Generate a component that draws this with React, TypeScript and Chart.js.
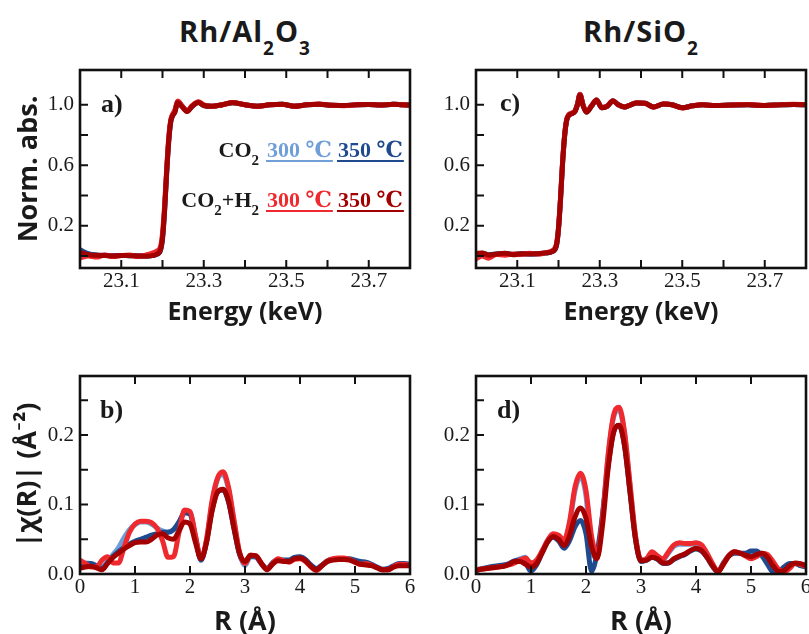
import React, { useEffect, useRef } from 'react';
import { Chart, registerables } from 'chart.js';

Chart.register(...registerables);

const SANS = "'Open Sans', Lato, 'DejaVu Sans', sans-serif";
const SERIF = "'Liberation Serif', 'DejaVu Serif', serif";
const INK = '#1a1a1a';

const C_CO2_300 = '#6f9fd6';
const C_CO2_350 = '#1f4b8e';
const C_H2_300 = '#ee2a2f';
const C_H2_350 = '#a30000';

// ---------- XANES, Rh/Al2O3 ----------
const ENERGY_AL = [23.00, 23.02, 23.04, 23.06, 23.08, 23.10, 23.12, 23.14, 23.16, 23.175, 23.185, 23.195, 23.20, 23.205, 23.21, 23.215, 23.22, 23.225, 23.23, 23.237, 23.248, 23.26, 23.272, 23.287, 23.30, 23.32, 23.345, 23.37, 23.40, 23.43, 23.46, 23.49, 23.52, 23.55, 23.58, 23.61, 23.64, 23.67, 23.70, 23.73, 23.76, 23.78, 23.80];
const AL_XANES_CO2_300 = [0.030, 0.012, 0.005, 0.003, 0.001, 0.003, 0.002, 0.000, -0.001, 0.003, 0.011, 0.042, 0.125, 0.305, 0.555, 0.765, 0.892, 0.935, 0.958, 1.022, 0.988, 0.958, 0.992, 1.018, 0.996, 0.990, 1.000, 1.014, 1.000, 0.990, 1.000, 1.003, 0.990, 1.000, 1.004, 0.996, 0.995, 1.000, 1.001, 0.998, 1.003, 1.000, 0.998];
const AL_XANES_CO2_350 = [0.040, 0.015, 0.006, 0.004, 0.001, 0.003, 0.001, 0.001, -0.001, 0.002, 0.009, 0.035, 0.110, 0.290, 0.540, 0.750, 0.885, 0.930, 0.955, 1.020, 0.990, 0.960, 0.990, 1.015, 0.995, 0.990, 1.000, 1.014, 1.000, 0.990, 1.000, 1.003, 0.991, 1.000, 1.004, 0.996, 0.995, 1.000, 1.001, 0.998, 1.003, 1.000, 0.998];
const AL_XANES_H2_300 = [-0.015, 0.000, -0.008, 0.006, -0.004, 0.002, 0.006, -0.004, 0.006, 0.018, 0.030, 0.060, 0.150, 0.330, 0.570, 0.780, 0.900, 0.940, 0.965, 1.025, 0.990, 0.960, 0.995, 1.020, 1.000, 0.990, 1.000, 1.015, 1.000, 0.990, 1.000, 1.004, 0.990, 1.000, 1.005, 0.997, 0.994, 1.000, 1.002, 0.998, 1.004, 1.000, 0.996];
const AL_XANES_H2_350 = [0.025, 0.008, 0.004, 0.002, 0.000, 0.003, 0.001, 0.000, -0.002, 0.002, 0.010, 0.040, 0.120, 0.300, 0.550, 0.760, 0.890, 0.930, 0.950, 1.015, 0.985, 0.955, 0.990, 1.015, 0.995, 0.990, 1.000, 1.013, 1.000, 0.990, 1.000, 1.003, 0.990, 1.000, 1.004, 0.996, 0.995, 1.000, 1.001, 0.998, 1.003, 1.000, 0.998];

// ---------- XANES, Rh/SiO2 ----------
const ENERGY_SI = [23.00, 23.015, 23.03, 23.05, 23.07, 23.09, 23.11, 23.13, 23.15, 23.17, 23.185, 23.195, 23.20, 23.205, 23.21, 23.215, 23.22, 23.225, 23.232, 23.24, 23.246, 23.252, 23.26, 23.268, 23.28, 23.292, 23.305, 23.318, 23.332, 23.345, 23.36, 23.375, 23.39, 23.41, 23.43, 23.455, 23.475, 23.50, 23.525, 23.55, 23.58, 23.62, 23.66, 23.70, 23.74, 23.77, 23.80];
const SI_XANES_CO2_300 = [0.010, 0.016, 0.006, 0.013, 0.017, 0.009, 0.015, 0.013, 0.015, 0.021, 0.031, 0.072, 0.182, 0.382, 0.622, 0.800, 0.901, 0.932, 0.943, 0.957, 1.003, 1.068, 0.993, 0.953, 0.992, 1.031, 0.981, 0.991, 1.026, 1.000, 0.985, 1.000, 1.012, 1.010, 0.985, 1.005, 1.000, 0.980, 0.993, 1.000, 0.995, 0.998, 1.000, 0.995, 1.000, 1.002, 1.000];
const SI_XANES_CO2_350 = [0.012, 0.018, 0.008, 0.012, 0.016, 0.010, 0.014, 0.012, 0.014, 0.019, 0.028, 0.066, 0.175, 0.375, 0.615, 0.795, 0.898, 0.930, 0.942, 0.957, 1.002, 1.068, 0.992, 0.952, 0.991, 1.031, 0.981, 0.990, 1.026, 1.000, 0.985, 1.000, 1.012, 1.010, 0.985, 1.005, 1.000, 0.980, 0.993, 1.000, 0.995, 0.998, 1.000, 0.995, 1.000, 1.002, 1.000];
const SI_XANES_H2_300 = [-0.020, 0.000, -0.015, 0.010, 0.005, 0.012, 0.010, 0.018, 0.012, 0.022, 0.035, 0.080, 0.190, 0.390, 0.630, 0.805, 0.905, 0.935, 0.945, 0.960, 1.005, 1.070, 0.995, 0.955, 0.995, 1.032, 0.982, 0.992, 1.027, 1.000, 0.985, 1.000, 1.013, 1.010, 0.984, 1.006, 1.000, 0.978, 0.994, 1.000, 0.995, 0.999, 1.001, 0.995, 1.000, 1.003, 1.000];
const SI_XANES_H2_350 = [0.015, 0.020, 0.005, 0.012, 0.018, 0.008, 0.015, 0.012, 0.015, 0.020, 0.030, 0.070, 0.180, 0.380, 0.620, 0.800, 0.900, 0.930, 0.940, 0.955, 1.000, 1.065, 0.990, 0.950, 0.990, 1.030, 0.980, 0.990, 1.025, 1.000, 0.985, 1.000, 1.012, 1.010, 0.985, 1.005, 1.000, 0.980, 0.993, 1.000, 0.995, 0.998, 1.000, 0.995, 1.000, 1.002, 1.000];

// ---------- |chi(R)| ----------
const R_GRID = [0.0, 0.1, 0.2, 0.3, 0.4, 0.5, 0.6, 0.7, 0.8, 0.9, 1.0, 1.1, 1.2, 1.3, 1.4, 1.5, 1.6, 1.7, 1.8, 1.9, 2.0, 2.1, 2.2, 2.3, 2.4, 2.5, 2.6, 2.7, 2.8, 2.9, 3.0, 3.1, 3.2, 3.3, 3.4, 3.5, 3.6, 3.7, 3.8, 3.9, 4.0, 4.1, 4.2, 4.3, 4.4, 4.5, 4.6, 4.7, 4.8, 4.9, 5.0, 5.1, 5.2, 5.3, 5.4, 5.5, 5.6, 5.7, 5.8, 5.9, 6.0];

const AL_FT_CO2_300 = [0.014, 0.016, 0.015, 0.010, 0.010, 0.018, 0.028, 0.038, 0.052, 0.064, 0.071, 0.075, 0.075, 0.072, 0.066, 0.062, 0.060, 0.063, 0.074, 0.088, 0.088, 0.054, 0.020, 0.048, 0.102, 0.136, 0.143, 0.122, 0.076, 0.030, 0.012, 0.025, 0.024, 0.014, 0.007, 0.016, 0.021, 0.019, 0.019, 0.023, 0.024, 0.020, 0.011, 0.007, 0.012, 0.018, 0.021, 0.022, 0.022, 0.021, 0.019, 0.017, 0.016, 0.013, 0.009, 0.006, 0.007, 0.011, 0.014, 0.014, 0.013];
const AL_FT_CO2_350 = [0.012, 0.014, 0.015, 0.012, 0.008, 0.016, 0.025, 0.032, 0.038, 0.043, 0.047, 0.050, 0.053, 0.056, 0.058, 0.060, 0.060, 0.064, 0.075, 0.088, 0.086, 0.052, 0.020, 0.046, 0.092, 0.118, 0.121, 0.104, 0.065, 0.028, 0.017, 0.026, 0.025, 0.015, 0.008, 0.016, 0.021, 0.020, 0.020, 0.024, 0.025, 0.021, 0.013, 0.008, 0.013, 0.019, 0.021, 0.022, 0.022, 0.022, 0.020, 0.018, 0.017, 0.014, 0.010, 0.007, 0.008, 0.012, 0.015, 0.015, 0.014];
const AL_FT_H2_300 = [0.020, 0.015, 0.010, 0.010, 0.020, 0.025, 0.016, 0.016, 0.038, 0.060, 0.072, 0.076, 0.076, 0.074, 0.066, 0.048, 0.024, 0.025, 0.060, 0.092, 0.090, 0.055, 0.022, 0.050, 0.105, 0.138, 0.147, 0.125, 0.078, 0.032, 0.015, 0.027, 0.026, 0.015, 0.007, 0.015, 0.022, 0.019, 0.017, 0.021, 0.022, 0.018, 0.010, 0.005, 0.012, 0.019, 0.022, 0.023, 0.023, 0.021, 0.017, 0.014, 0.015, 0.013, 0.009, 0.006, 0.006, 0.011, 0.014, 0.014, 0.012];
const AL_FT_H2_350 = [0.008, 0.010, 0.011, 0.009, 0.006, 0.015, 0.024, 0.030, 0.036, 0.041, 0.045, 0.046, 0.046, 0.050, 0.056, 0.058, 0.052, 0.050, 0.062, 0.075, 0.072, 0.045, 0.022, 0.045, 0.090, 0.118, 0.122, 0.105, 0.066, 0.030, 0.018, 0.027, 0.026, 0.015, 0.006, 0.014, 0.019, 0.018, 0.018, 0.022, 0.023, 0.019, 0.011, 0.006, 0.012, 0.018, 0.020, 0.021, 0.021, 0.020, 0.017, 0.014, 0.013, 0.012, 0.009, 0.006, 0.006, 0.010, 0.012, 0.012, 0.012];

const SI_FT_CO2_300 = [0.006, 0.008, 0.009, 0.010, 0.011, 0.012, 0.014, 0.018, 0.022, 0.024, 0.008, 0.016, 0.032, 0.048, 0.057, 0.055, 0.046, 0.072, 0.120, 0.140, 0.112, 0.030, 0.024, 0.085, 0.168, 0.225, 0.236, 0.202, 0.128, 0.054, 0.020, 0.022, 0.030, 0.025, 0.021, 0.030, 0.040, 0.043, 0.043, 0.043, 0.044, 0.040, 0.029, 0.014, 0.004, 0.016, 0.027, 0.031, 0.030, 0.029, 0.031, 0.031, 0.027, 0.018, 0.006, 0.004, 0.010, 0.014, 0.015, 0.013, 0.011];
const SI_FT_CO2_350 = [0.005, 0.007, 0.009, 0.011, 0.012, 0.013, 0.015, 0.019, 0.020, 0.016, 0.004, 0.013, 0.030, 0.046, 0.053, 0.048, 0.037, 0.048, 0.068, 0.077, 0.058, 0.004, 0.030, 0.085, 0.155, 0.204, 0.214, 0.185, 0.118, 0.050, 0.018, 0.020, 0.024, 0.021, 0.015, 0.016, 0.021, 0.025, 0.028, 0.033, 0.036, 0.033, 0.024, 0.011, 0.003, 0.016, 0.026, 0.030, 0.030, 0.030, 0.033, 0.033, 0.026, 0.014, 0.003, 0.003, 0.010, 0.015, 0.015, 0.012, 0.010];
const SI_FT_H2_300 = [0.006, 0.007, 0.008, 0.009, 0.010, 0.011, 0.013, 0.016, 0.020, 0.023, 0.016, 0.020, 0.033, 0.048, 0.058, 0.056, 0.049, 0.075, 0.125, 0.145, 0.120, 0.055, 0.028, 0.080, 0.170, 0.228, 0.240, 0.205, 0.130, 0.055, 0.020, 0.022, 0.032, 0.026, 0.022, 0.032, 0.042, 0.045, 0.044, 0.044, 0.045, 0.042, 0.030, 0.015, 0.004, 0.015, 0.027, 0.032, 0.030, 0.026, 0.022, 0.025, 0.030, 0.028, 0.018, 0.007, 0.003, 0.008, 0.015, 0.014, 0.011];
const SI_FT_H2_350 = [0.005, 0.007, 0.008, 0.009, 0.010, 0.011, 0.014, 0.018, 0.018, 0.014, 0.010, 0.015, 0.030, 0.046, 0.054, 0.050, 0.041, 0.055, 0.082, 0.095, 0.080, 0.040, 0.022, 0.070, 0.150, 0.203, 0.214, 0.185, 0.118, 0.050, 0.019, 0.020, 0.024, 0.022, 0.016, 0.016, 0.022, 0.026, 0.029, 0.034, 0.037, 0.034, 0.024, 0.012, 0.003, 0.014, 0.026, 0.032, 0.030, 0.027, 0.025, 0.028, 0.030, 0.024, 0.012, 0.004, 0.005, 0.012, 0.016, 0.015, 0.012];

// ---------- ticks ----------
const XANES_X_TICKS = [23.1, 23.2, 23.3, 23.4, 23.5, 23.6, 23.7];
const XANES_X_LABELS = [23.1, 23.3, 23.5, 23.7];
const XANES_Y_TICKS = [0.0, 0.2, 0.4, 0.6, 0.8, 1.0];
const XANES_Y_LABELS = [0.2, 0.6, 1.0];
const FT_X_TICKS = [0, 1, 2, 3, 4, 5, 6];
const FT_X_LABELS = [0, 1, 2, 3, 4, 5, 6];
const FT_Y_TICKS = [0.0, 0.05, 0.1, 0.15, 0.2, 0.25];
const FT_Y_LABELS = [0.0, 0.1, 0.2];

// ---------- legend ----------
const LEGEND_CONDITIONS: [string, boolean][][] = [
  [['CO', false], ['2', true]],
  [['CO', false], ['2', true], ['+H', false], ['2', true]],
];
const LEGEND_TEMPS = ['300 ℃', '350 ℃'];
const LEGEND_COLORS = [[C_CO2_300, C_CO2_350], [C_H2_300, C_H2_350]];

const TICK_LEN = 8;

function drawRich(ctx: CanvasRenderingContext2D, parts: [string, boolean][], x: number, base: number, size: number, subSize: number, subDrop: number, alignRight: boolean) {
  const widths = parts.map(([t, sub]) => {
    ctx.font = `bold ${sub ? subSize : size}px ${SERIF}`;
    return ctx.measureText(t).width;
  });
  const total = widths.reduce((a, b) => a + b, 0);
  let cx = alignRight ? x - total : x;
  const start = cx;
  parts.forEach(([t, sub], i) => {
    ctx.font = `bold ${sub ? subSize : size}px ${SERIF}`;
    ctx.fillText(t, cx, base + (sub ? subDrop : 0));
    cx += widths[i];
  });
  return [start, cx];
}

const framePlugin = {
  id: 'frame',
  afterDatasetsDraw(chart: any, _args: any, opts: any) {
    const { ctx, chartArea: ca, scales } = chart;
    const xs = scales.x, ys = scales.y;
    ctx.save();
    ctx.strokeStyle = '#111';
    ctx.lineWidth = 2;
    ctx.beginPath();
    for (const v of opts.xMarks) {
      const px = xs.getPixelForValue(v);
      if (px <= ca.left + 1 || px >= ca.right - 1) continue;
      ctx.moveTo(px, ca.bottom); ctx.lineTo(px, ca.bottom - TICK_LEN);
      ctx.moveTo(px, ca.top); ctx.lineTo(px, ca.top + TICK_LEN);
    }
    for (const v of opts.yMarks) {
      const py = ys.getPixelForValue(v);
      if (py >= ca.bottom - 1 || py <= ca.top + 1) continue;
      ctx.moveTo(ca.left, py); ctx.lineTo(ca.left + TICK_LEN, py);
    }
    ctx.stroke();
    ctx.lineWidth = 2.6;
    ctx.strokeRect(ca.left, ca.top, ca.right - ca.left, ca.bottom - ca.top);

    ctx.fillStyle = INK;
    ctx.textAlign = 'left';
    ctx.textBaseline = 'alphabetic';
    ctx.font = `bold 26px ${SERIF}`;
    ctx.fillText(opts.letter, opts.letterX, opts.letterY);

    if (opts.legend) {
      const L = opts.legend;
      LEGEND_CONDITIONS.forEach((parts, row) => {
        const base = L.baselines[row];
        ctx.fillStyle = INK;
        drawRich(ctx, parts, L.condRight, base, L.size, L.subSize, L.subDrop, true);
        LEGEND_TEMPS.forEach((t, k) => {
          const col = LEGEND_COLORS[row][k];
          ctx.fillStyle = col;
          const [s, e] = drawRich(ctx, [[t, false]], L.tempLefts[k], base, L.size, L.subSize, L.subDrop, false);
          ctx.strokeStyle = col;
          ctx.lineWidth = 2;
          ctx.beginPath();
          ctx.moveTo(s - 1, base + L.ulDrop);
          ctx.lineTo(e + 1, base + L.ulDrop);
          ctx.stroke();
        });
      });
    }
    ctx.restore();
  },
};

type Spec = {
  left: number; top: number; width: number; height: number;
  padTop: number; padRight: number; yAxisW: number; xAxisH: number;
  xMin: number; xMax: number; yMin: number; yMax: number;
  xTicks: number[]; xLabels: number[]; xDigits: number;
  yTicks: number[]; yLabels: number[]; yDigits: number;
  xTitle: string; xTitleSize: number; xTitlePad: number; yTitle?: string; yTitlePad?: number;
  xs: number[]; series: number[][];
  letter: string; letterX: number; letterY: number; legend?: any;
};

function hasVal(arr: number[], v: number) {
  return arr.some((a) => Math.abs(a - v) < 1e-6);
}

function buildConfig(s: Spec): any {
  const colors = [C_H2_350, C_H2_300, C_CO2_350, C_CO2_300];
  // series given as [CO2_300, CO2_350, H2_300, H2_350]; first dataset is drawn on top
  const ordered = [s.series[3], s.series[2], s.series[1], s.series[0]];
  return {
    type: 'line',
    data: {
      datasets: ordered.map((ys, i) => ({
        data: s.xs.map((x, j) => ({ x, y: ys[j] })),
        borderColor: colors[i],
        backgroundColor: colors[i],
        borderWidth: 5,
        pointRadius: 0,
        fill: false,
        cubicInterpolationMode: 'monotone',
      })),
    },
    options: {
      responsive: false,
      animation: false,
      devicePixelRatio: 1,
      events: [],
      layout: { padding: { top: s.padTop, right: s.padRight, left: 0, bottom: 0 } },
      plugins: {
        legend: { display: false },
        tooltip: { enabled: false },
        frame: {
          xMarks: s.xTicks, yMarks: s.yTicks,
          letter: s.letter, letterX: s.letterX, letterY: s.letterY,
          legend: s.legend,
        },
      },
      scales: {
        x: {
          type: 'linear',
          min: s.xMin,
          max: s.xMax,
          afterBuildTicks: (sc: any) => { sc.ticks = s.xTicks.map((v) => ({ value: v })); },
          afterFit: (sc: any) => { sc.height = s.xAxisH; },
          grid: { display: false, drawTicks: false },
          border: { display: false },
          ticks: {
            autoSkip: false,
            maxRotation: 0,
            minRotation: 0,
            padding: 1,
            color: INK,
            font: { family: SERIF, size: 21 },
            callback: (v: number) => (hasVal(s.xLabels, v) ? Number(v).toFixed(s.xDigits) : ''),
          },
          title: {
            display: true,
            text: s.xTitle,
            color: INK,
            font: { family: SANS, size: s.xTitleSize, weight: 'bold', lineHeight: 1.2 },
            padding: { top: 0, bottom: s.xTitlePad },
          },
        },
        y: {
          type: 'linear',
          min: s.yMin,
          max: s.yMax,
          afterBuildTicks: (sc: any) => { sc.ticks = s.yTicks.map((v) => ({ value: v })); },
          afterFit: (sc: any) => { sc.width = s.yAxisW; },
          grid: { display: false, drawTicks: false },
          border: { display: false },
          ticks: {
            autoSkip: false,
            padding: 6,
            color: INK,
            font: { family: SERIF, size: 21 },
            callback: (v: number) => (hasVal(s.yLabels, v) ? Number(v).toFixed(s.yDigits) : ''),
          },
          title: {
            display: !!s.yTitle,
            text: s.yTitle || '',
            color: INK,
            font: { family: SANS, size: 27, weight: 'bold', lineHeight: 1.2 },
            padding: { top: s.yTitlePad || 0, bottom: 0 },
          },
        },
      },
    },
    plugins: [framePlugin],
  };
}

const LEGEND_LAYOUT = {
  baselines: [107, 157],
  condRight: 259,
  tempLefts: [267, 338],
  size: 22,
  subSize: 15,
  subDrop: 8,
  ulDrop: 4,
};

const SPECS: Spec[] = [
  {
    left: 0, top: 50, width: 420, height: 290,
    padTop: 20, padRight: 10, yAxisW: 80, xAxisH: 72,
    xMin: 23.0, xMax: 23.8, yMin: -0.08, yMax: 1.23,
    xTicks: XANES_X_TICKS, xLabels: XANES_X_LABELS, xDigits: 1,
    yTicks: XANES_Y_TICKS, yLabels: XANES_Y_LABELS, yDigits: 1,
    xTitle: 'Energy (keV)', xTitleSize: 25, xTitlePad: 12, yTitle: 'Norm. abs.', yTitlePad: 13,
    xs: ENERGY_AL, series: [AL_XANES_CO2_300, AL_XANES_CO2_350, AL_XANES_H2_300, AL_XANES_H2_350],
    letter: 'a)', letterX: 101, letterY: 62, legend: LEGEND_LAYOUT,
  },
  {
    left: 400, top: 50, width: 420, height: 290,
    padTop: 20, padRight: 14, yAxisW: 76, xAxisH: 72,
    xMin: 23.0, xMax: 23.8, yMin: -0.08, yMax: 1.23,
    xTicks: XANES_X_TICKS, xLabels: XANES_X_LABELS, xDigits: 1,
    yTicks: XANES_Y_TICKS, yLabels: XANES_Y_LABELS, yDigits: 1,
    xTitle: 'Energy (keV)', xTitleSize: 25, xTitlePad: 12,
    xs: ENERGY_SI, series: [SI_XANES_CO2_300, SI_XANES_CO2_350, SI_XANES_H2_300, SI_XANES_H2_350],
    letter: 'c)', letterX: 100, letterY: 61,
  },
  {
    left: 0, top: 340, width: 420, height: 300,
    padTop: 36, padRight: 10, yAxisW: 80, xAxisH: 66,
    xMin: 0, xMax: 6, yMin: 0, yMax: 0.285,
    xTicks: FT_X_TICKS, xLabels: FT_X_LABELS, xDigits: 0,
    yTicks: FT_Y_TICKS, yLabels: FT_Y_LABELS, yDigits: 1,
    xTitle: 'R (Å)', xTitleSize: 27, xTitlePad: 1, yTitle: '|χ(R)| (Å⁻²)', yTitlePad: 12,
    xs: R_GRID, series: [AL_FT_CO2_300, AL_FT_CO2_350, AL_FT_H2_300, AL_FT_H2_350],
    letter: 'b)', letterX: 100, letterY: 78,
  },
  {
    left: 400, top: 340, width: 420, height: 300,
    padTop: 36, padRight: 14, yAxisW: 76, xAxisH: 66,
    xMin: 0, xMax: 6, yMin: 0, yMax: 0.285,
    xTicks: FT_X_TICKS, xLabels: FT_X_LABELS, xDigits: 0,
    yTicks: FT_Y_TICKS, yLabels: FT_Y_LABELS, yDigits: 1,
    xTitle: 'R (Å)', xTitleSize: 27, xTitlePad: 1,
    xs: R_GRID, series: [SI_FT_CO2_300, SI_FT_CO2_350, SI_FT_H2_300, SI_FT_H2_350],
    letter: 'd)', letterX: 97, letterY: 78,
  },
];

function Panel({ spec }: { spec: Spec }) {
  const ref = useRef<HTMLCanvasElement>(null);
  useEffect(() => {
    if (!ref.current) return;
    const chart = new Chart(ref.current, buildConfig(spec));
    return () => chart.destroy();
  }, [spec]);
  return (
    <canvas
      ref={ref}
      width={spec.width}
      height={spec.height}
      style={{ position: 'absolute', left: spec.left, top: spec.top, width: spec.width, height: spec.height }}
    />
  );
}

const subStyle: React.CSSProperties = { fontSize: '19px', verticalAlign: '-13px', lineHeight: '19px' };

function Title({ left, children }: { left: number; children: React.ReactNode }) {
  return (
    <div
      style={{
        position: 'absolute', left, top: 16, width: 330, textAlign: 'center',
        font: `bold 29px ${SANS}`, lineHeight: '30px', color: INK, whiteSpace: 'nowrap', letterSpacing: '1px',
      }}
    >
      {children}
    </div>
  );
}

export default function App() {
  return (
    <div style={{ position: 'fixed', left: 0, top: 0, width: 809, height: 634, overflow: 'hidden', background: '#fff' }}>
      <Title left={80}>Rh/Al<span style={subStyle}>2</span>O<span style={subStyle}>3</span></Title>
      <Title left={476}>Rh/SiO<span style={subStyle}>2</span></Title>
      {SPECS.map((s, i) => (
        <Panel key={i} spec={s} />
      ))}
    </div>
  );
}
